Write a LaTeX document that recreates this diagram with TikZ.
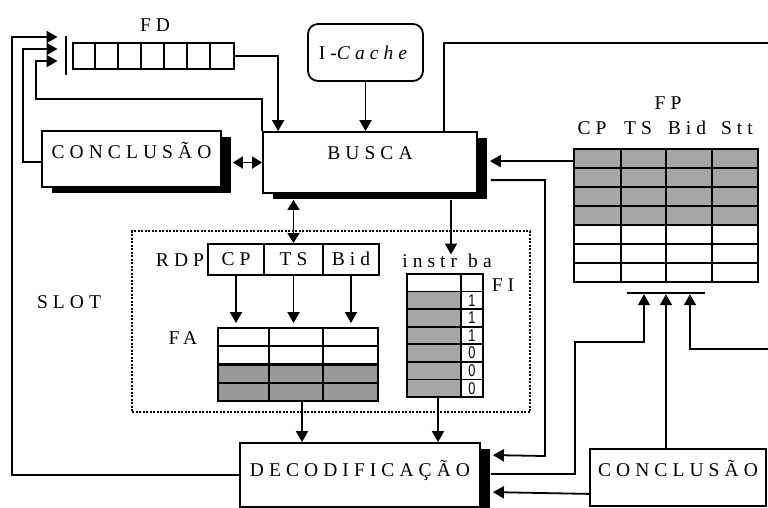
\documentclass[tikz,border=0pt]{standalone}
\usepackage{fontspec}
\setmainfont{Liberation Serif}
\newfontfamily\lblfont[LetterSpace=26]{Liberation Serif}
\newfontfamily\bitfont{Liberation Sans}
\usetikzlibrary{arrows.meta,positioning,shadows,calc}
\newcommand{\dfont}{\lblfont\fontsize{19.5}{22}\selectfont}

\begin{document}
\begin{tikzpicture}[x=1pt, y=-1pt,
  box/.style={draw, line width=1.8pt, fill=white, font=\dfont, inner sep=0pt, text height=13pt},
  shd/.style={drop shadow={shadow xshift=10pt, shadow yshift=-6pt, fill=black, opacity=1}},
  lbl/.style={font=\dfont, inner sep=0pt, text height=12.6pt, text depth=0pt},
  fld/.style={draw, line width=1.8pt, font=\dfont, inner sep=0pt, minimum height=31pt,
              text height=12.6pt, text depth=0pt},
  tab/.style={draw, line width=1.8pt, inner sep=0pt},
  tline/.style={line width=1.8pt},
  bit/.style={font=\bitfont\fontsize{17}{17}\selectfont, inner sep=0pt},
  arr/.style={-{Triangle[length=11pt,width=12pt]}, line width=1.8pt},
  darr/.style={{Triangle[length=10pt,width=12pt]}-{Triangle[length=10pt,width=12pt]}, line width=1.8pt}
]
\useasboundingbox (0,0) rectangle (768,507);

% main blocks
\node[box, rounded corners=10pt, minimum width=115pt, minimum height=57pt, text depth=0pt] (icache) at (365.5,52.5) {I-\textit{Cache}};
\node[box, shd, minimum width=214pt, minimum height=61pt, text depth=19.4pt] (busca) at (370,162.5) {BUSCA};
\node[box, shd, minimum width=179pt, minimum height=56pt, text depth=14.4pt] (concl) at (131.5,159) {CONCLUSÃO};
\node[box, shd, minimum width=240pt, minimum height=64pt, text depth=10.4pt] (dec) at (360,475) {DECODIFICAÇÃO};
\node[box, minimum width=176pt, minimum height=57pt, text depth=15.4pt] (concl2) at (678,477.5) {CONCLUSÃO};
\coordinate (bsh) at ($(busca.south)+(0,6)$);

% FD
\node[tab, minimum width=161pt, minimum height=26pt] (fd) at (153.5,56) {};
\foreach \i in {1,...,6}
  \draw[tline] ($(fd.north west)+(23*\i,0)$) -- ($(fd.south west)+(23*\i,0)$);
\node[lbl] (fdlbl) at (155,25) {FD};
\node[fill=black, inner sep=0pt, minimum width=2.5pt, minimum height=39pt] (gate) at (66,55.5) {};

% FP
\fill[gray!70] (574,149) rectangle (758,225);
\node[tab, minimum width=184pt, minimum height=133pt] (fp) at (666,215.5) {};
\foreach \y in {168,187,206,225,244,263} \draw[tline] (574,\y) -- (758,\y);
\foreach \x in {621,666,712} \draw[tline] (\x,149) -- (\x,282);
\node[lbl] (fplbl) at (668,103) {FP};
\node[lbl] (fpcp) at (592,128) {CP};
\node[lbl] (fpts) at (638,128) {TS};
\node[lbl] (fpbid) at (687,128) {Bid};
\node[lbl] (fpstt) at (737,128) {Stt};
\node[fill=black, inner sep=0pt, minimum width=78pt, minimum height=2pt] (fpin) at (666,293) {};

% SLOT
\node[draw, line width=1.8pt, dash pattern=on 2pt off 1.5pt, minimum width=398pt, minimum height=181pt] (slot) at (331,321.5) {};
\node[lbl] (slotlbl) at (69,302) {SLOT};
\node[lbl] (rdplbl) at (180,260) {RDP};
\node[fld, minimum width=56pt] (cp) at (236,259.5) {CP};
\node[fld, minimum width=59pt] (ts) at (293.5,259.5) {TS};
\node[fld, minimum width=56pt] (bid) at (351,259.5) {Bid};

\fill[gray!80] (218,364.5) rectangle (378,401);
\node[tab, minimum width=160pt, minimum height=73pt] (fa) at (298,364.5) {};
\foreach \y in {346.25,364.5,382.75} \draw[line width=2.4pt] (218,\y) -- (378,\y);
\foreach \x in {269,323} \draw[tline] (\x,328) -- (\x,401);
\node[lbl] (falbl) at (183,338) {FA};

\fill[gray!70] (407,291.6) rectangle (461,397);
\node[tab, minimum width=76pt, minimum height=123pt] (fi) at (445,335.5) {};
\foreach \k in {1,...,6} \draw[tline] (407,274+17.57*\k) -- (483,274+17.57*\k);
\draw[tline] (461,274) -- (461,397);
\foreach \k/\b in {1/1,2/1,3/1,4/0,5/0,6/0}
  \node[bit] at (472,282.8+17.57*\k) {\scalebox{0.75}[1]{\b}};
\node[lbl] (fihead) at (447,261) {instr\hspace{11pt}ba};
\node[lbl] (filbl) at (503,285) {FI};

% connectors
\coordinate (fih) at ($(fihead.north)+(4,0)$);
\draw[arr] (icache) -- (icache |- busca.north);
\draw[arr] (fd.east) -| ($(busca.north west)+(16,0)$);
\draw[arr] (busca.north west) |- (36,99) |- ($(gate.west)+(-7,5.5)$);
\draw[arr] ($(concl.west)+(0,3)$) -| (23,49) -- ($(gate.west)+(-7,-6.5)$);
\draw[arr] (dec.west) -| (12,37) -- ($(gate.west)+(-7,-18.5)$);
\draw[darr] (busca.west) -- ($(concl.east |- busca.west)+(11,0)$);
\draw[darr] (ts.north) -- (ts.north |- bsh);
\draw[arr] (fih |- bsh) -- (fih);
\foreach \f in {cp,ts,bid} \draw[arr, shorten >=4pt] (\f.south) -- (\f.south |- fa.north);
\draw[arr] ($(fa.south)+(4,0)$) coordinate (fad) -- (fad |- dec.north);
\draw[arr] ($(fi.south)+(-7,0)$) coordinate (fid) -- (fid |- dec.north);
\draw[arr] ($(fp.north west)+(0,13)$) -- ($(busca.north east)+(12,30)$);
\draw[arr] ($(busca.north east)+(13,49)$) -| (545,456) -- ($(dec.north east)+(12,13)$);
\coordinate (edge1) at (768,43);
\draw[tline] ($(busca.north west)+(182,0)$) |- (edge1);
\draw[arr] ($(dec.north east)+(10,32)$) -| (575,342) -| ($(fpin.south)+(-22,0)$);
\draw[arr] (fpin.south |- concl2.north) -- (fpin.south);
\coordinate (edge2) at (768,349);
\draw[arr] (edge2) -| ($(fpin.south)+(24,0)$);
\draw[arr] ($(concl2.south west)+(0,-13)$) -- ($(dec.north east)+(12,50)$);
\end{tikzpicture}
\end{document}
